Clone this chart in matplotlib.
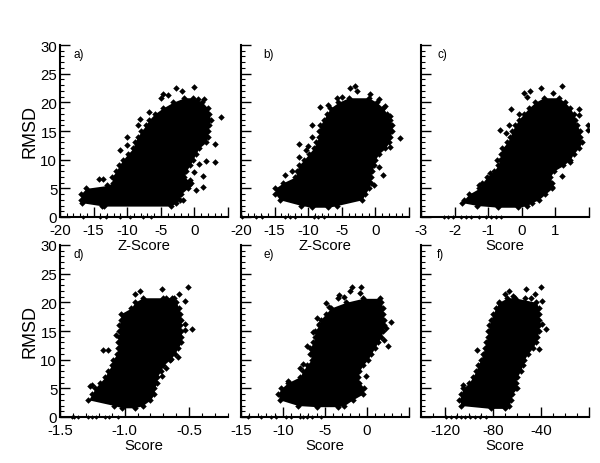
import numpy as np
import matplotlib
matplotlib.use('Agg')
import matplotlib.pyplot as plt

plt.rcParams['font.family'] = ['Liberation Sans', 'DejaVu Sans']

# cloud edge per panel : rmsd level, lowest score, highest score
a_y = [1.9, 2.5, 3, 4, 5, 5.5, 6, 7, 8, 9, 10, 11, 12, 13, 14, 15, 16, 17, 18, 19, 20, 20.8]
a_left = [-13.5, -16.8, -16.9, -16.9, -16.1, -13, -12.1, -12.3, -11.6, -11.2, -10.6, -9.9, -9.1, -8.9, -8.4, -7.9, -7.2, -6.7, -5.9, -4.7, -3.2, -1.5]
a_right = [-3.5, -2.7, -2.2, -2, -1, -0.8, -0.5, -1.5, -1.2, -0.7, -0.2, 0.2, 0.7, 1.7, 2, 2, 2.2, 2.4, 2.2, 2, 1.2, -0.2]

b_y = [1.7, 2, 3, 4, 5, 6, 7, 8, 9, 10, 11, 12, 13, 14, 15, 16, 17, 18, 19, 20, 20.8]
b_left = [-9.5, -11, -14.2, -14.9, -14.9, -13.7, -11.9, -11.7, -11.4, -10.6, -9.9, -9.2, -8.8, -8.4, -8.4, -8.2, -7.7, -7.2, -6.7, -5.5, -4]
b_right = [-7, -5.7, -2, -1.5, -1, -0.7, -0.7, -0.5, -0.2, 0, 0.5, 1.5, 2, 2.2, 2.5, 2.5, 2.2, 1.7, 1.2, 0.2, -1]

c_y = [1.7, 2, 2.5, 3, 4, 5, 6, 7, 8, 9, 10, 11, 12, 13, 14, 15, 16, 17, 18, 19, 20, 20.8]
c_left = [-0.7, -1.32, -1.77, -1.72, -1.57, -1.27, -1.17, -1.03, -0.83, -0.71, -0.65, -0.63, -0.58, -0.43, -0.34, -0.29, -0.19, -0.09, 0.06, 0.21, 0.4, 0.65]
c_right = [-0.1, 0.16, 0.3, 0.5, 0.7, 0.9, 0.9, 0.85, 0.95, 1.24, 1.44, 1.54, 1.69, 1.79, 1.74, 1.74, 1.64, 1.59, 1.54, 1.44, 1.29, 1.1]

d_y = [1.6, 2, 3, 4, 5, 6, 7, 8, 9, 10, 11, 12, 13, 14, 15, 16, 17, 18, 19, 20, 20.8]
d_left = [-1.02, -1.08, -1.28, -1.25, -1.23, -1.19, -1.15, -1.13, -1.10, -1.09, -1.06, -1.05, -1.05, -1.04, -1.04, -1.04, -1.03, -1.03, -0.95, -0.92, -0.86]
d_right = [-0.92, -0.86, -0.8, -0.77, -0.77, -0.75, -0.75, -0.72, -0.70, -0.65, -0.61, -0.59, -0.56, -0.56, -0.56, -0.57, -0.56, -0.57, -0.58, -0.6, -0.62]

e_y = [1.8, 2, 3, 4, 5, 6, 7, 8, 9, 10, 11, 12, 13, 14, 15, 16, 17, 18, 19, 20, 20.7]
e_left = [-6, -8.2, -10.4, -10.6, -10.2, -9.4, -8, -7.6, -7.2, -6.6, -6.8, -6.8, -6.4, -6.2, -6.2, -5.7, -5.5, -4.9, -4.3, -2.5, -0.5]
e_right = [-3.5, -2.7, -1.7, -0.5, -0.3, -0.9, -1.1, -0.9, -0.5, 0.1, 0.5, 0.9, 1.3, 1.7, 1.9, 2, 2, 1.9, 1.9, 1.7, 1.5]

f_y = [1.5, 2, 3, 4, 5, 6, 7, 8, 9, 10, 11, 12, 13, 14, 15, 16, 17, 18, 19, 20, 20.8]
f_left = [-82, -106.5, -108, -106.5, -105, -99.6, -97, -94, -92.7, -90, -88.6, -87, -86, -84.4, -84, -83, -81.7, -80, -77.5, -75, -68]
f_right = [-70, -66.5, -65, -64, -60, -61, -60, -57, -55.4, -54, -51, -47, -44.4, -43, -41.7, -41.7, -41.7, -41.7, -41.7, -44, -62]

# stray points outside the cloud
a_ox = [-0.1, -2.8, -1.9, -4.7, -4, -5, 4, 3, 3, 1.7, 0.7, 1.3, 1.3, 0.2, -10.1, -11.1, -10.1, -14.2, -13.6, -13.8, -1.7, 0, -0.7, -8.1, -6.7, -8.4, 0.5, 1.5]
a_oy = [22.7, 22.5, 21.9, 21.5, 21.2, 20.8, 17.4, 9.6, 12.8, 9.8, 9.3, 7.1, 5.2, 4.7, 13.9, 11.6, 12.5, 6.7, 6.6, 2, 2.9, 7.8, 6.4, 17.1, 18.3, 16, 20.6, 20.5]
b_ox = [-3.1, -3.8, -2.8, -0.8, -5.7, -5, 0.5, -8.3, -7.1, 3.7, -9.4, -9.4, -11.3, -10, -10.4, -11.3, -12.4, -13.5, 1.1, -0.2, 0.5, 2.2, 1.5, 2.2]
b_oy = [22.8, 22.5, 21.9, 21.5, 20.8, 20.9, 20.5, 19.1, 19.5, 13.7, 16, 14, 12.7, 12.4, 11.6, 10.5, 8.1, 7.3, 7.3, 5.5, 8.7, 12.2, 19.4, 17.7]
c_ox = [1.19, 0.58, 0.24, 0.06, 0.16, 0.92, -0.32, -0.65, -0.09, -0.38, -0.48, 1.98, 1.98, 1.71, 1.69, 1.21, 1.44, 0.85, 0.9, -0.95, -0.73, -1.27]
c_oy = [22.8, 22.5, 22, 21.6, 20.9, 21.6, 18.9, 15.1, 18, 16.1, 14.7, 16, 15.1, 18.8, 17.8, 7.1, 9.6, 7.8, 5.2, 7.7, 9.9, 5.5]
d_ox = [-0.51, -0.71, -0.88, -0.92, -0.58, -0.7, -0.68, -0.53, -0.63, -0.53, -0.48, -0.53, -1.17, -1.13, -1.07, -1.25, -1.27, -0.59, -0.68, -0.71, -0.64]
d_oy = [22.7, 22.4, 21.9, 21.5, 21.5, 20.8, 20.8, 20.2, 20.8, 16.3, 15.3, 15.1, 11.6, 11.6, 14.3, 5.6, 5.4, 10.5, 8.6, 7.2, 10.1]
e_ox = [-0.7, -1.8, -2, -0.8, -3.3, -3.5, -2.7, -4.9, -4.5, -5.9, -5.7, 2.9, 2.3, 2.5, 2, -0.1, -6.4, -7.2, -8, -9.4, -7.6]
e_oy = [22.7, 22.6, 21.9, 21.7, 21.2, 20.8, 20.9, 19.9, 19.2, 17.3, 16.2, 16.5, 15.6, 12.3, 13.5, 7.2, 14.8, 12.4, 8.6, 6.3, 9.2]
f_ox = [-40.3, -52.1, -45.2, -66.5, -69.8, -63.7, -53.2, -38.9, -39.4, -35.6, -41.7, -93.5, -104.6, -74.8, -61, -48.6]
f_oy = [22.7, 22.4, 21.5, 21.9, 21.5, 21.1, 20.8, 20.2, 16.3, 15.3, 11.8, 11.6, 5.6, 19.9, 5, 20.8]

# points sitting on the rmsd = 0 line
a_zero = [-16.6, -14.1, -13.1, -11.1, -9.6, -7.7, -6.4]
b_zero = [-19.8, -17.7, -16.9, -13.4, -12.7, -12, -9.2, -8.5, -7.6]
c_zero = [-2.31, -2.21, -2.06, -1.82, -1.67, -1.52, -1.27, -1.08, -0.93, -0.78, -0.63]
d_zero = [-1.41, -1.39, -1.36, -1.28, -1.25, -1.22, -1.15, -1.12, -1.05]
e_zero = [-14.2, -12.6, -11.4, -10.8, -9.6, -9.1, -8, -7.6, -7.2, -6.6, -5.5]
f_zero = [-119, -115, -111, -107, -103, -99, -95, -91, -86]

letters = ['a)', 'b)', 'c)', 'd)', 'e)', 'f)']
xlabels = ['Z-Score', 'Z-Score', 'Score', 'Score', 'Score', 'Score']
xlims = [(-20, 5), (-20, 5), (-3, 2), (-1.5, -0.2), (-15, 5), (-140, 0)]
majors = [[-20, -15, -10, -5, 0, 5], [-20, -15, -10, -5, 0, 5], [-3, -2, -1, 0, 1, 2],
          [-1.5, -1.0, -0.5], [-15, -10, -5, 0, 5], [-120, -80, -40, 0]]
majlabels = [['-20', '-15', '-10', '-5', '0', ''], ['-20', '-15', '-10', '-5', '0', ''],
             ['-3', '-2', '-1', '0', '1', ''], ['-1.5', '-1.0', '-0.5'],
             ['-15', '-10', '-5', '0', ''], ['-120', '-80', '-40', '']]
minor_step = [1, 1, None, 0.1, 1, 10]
yticks = [0, 5, 10, 15, 20, 25, 30]

clouds = [(a_y, a_left, a_right, a_ox, a_oy, a_zero),
          (b_y, b_left, b_right, b_ox, b_oy, b_zero),
          (c_y, c_left, c_right, c_ox, c_oy, c_zero),
          (d_y, d_left, d_right, d_ox, d_oy, d_zero),
          (e_y, e_left, e_right, e_ox, e_oy, e_zero),
          (f_y, f_left, f_right, f_ox, f_oy, f_zero)]

# panel boxes in pixels : left, top
W, H = 600.0, 464.0
lefts = [60, 241, 421, 60, 241, 421]
tops = [46, 46, 46, 246, 246, 246]
letter_dx = [14, 22, 16, 14, 22, 16]

fig = plt.figure(figsize=(6, 4.64), dpi=100)

for i in range(6):
    ax = fig.add_axes([lefts[i] / W, 1 - (tops[i] + 172) / H, 168 / W, 172 / H])
    ax.patch.set_visible(False)  # x label of the upper row runs into the lower panel
    y, left, right, ox, oy, zero = clouds[i]

    # dense part is solid black, edge and strays as diamonds
    ax.fill_betweenx(y, left, right, color='k', lw=0)
    ax.scatter(left, y, marker='D', s=11, c='k', lw=0)
    ax.scatter(right, y, marker='D', s=11, c='k', lw=0)
    ax.scatter(ox, oy, marker='D', s=11, c='k', lw=0)
    ax.scatter(zero, [0] * len(zero), marker='D', s=5, c='k', lw=0, clip_on=False)

    ax.set_xlim(xlims[i])
    ax.set_ylim(0, 30)
    ax.spines['top'].set_visible(False)
    ax.spines['right'].set_visible(False)
    ax.spines['left'].set_linewidth(1.5)
    ax.spines['bottom'].set_linewidth(1.5)

    ax.set_xticks(majors[i])
    ax.set_xticklabels(majlabels[i], fontsize=10.8)
    if minor_step[i] is not None:
        ax.set_xticks(np.arange(xlims[i][0], xlims[i][1] + 0.001, minor_step[i]), minor=True)
    ax.set_yticks(yticks)
    ax.set_yticks(range(0, 31), minor=True)
    if i % 3 == 0:
        ax.set_yticklabels([str(t) for t in yticks], fontsize=10.8)
        ax.set_ylabel('RMSD', fontsize=13, labelpad=1)
    else:
        ax.set_yticklabels([])

    ax.tick_params(which='major', direction='in', length=7, width=1, pad=2)
    ax.tick_params(axis='x', which='major', pad=4)
    ax.tick_params(which='minor', direction='in', length=3, width=0.8)
    ax.set_xlabel(xlabels[i], fontsize=10.7, labelpad=1)
    ax.text(letter_dx[i] / 168.0, 1 - 9 / 172.0, letters[i], transform=ax.transAxes,
            fontsize=8.5, va='center', ha='left')

fig.savefig('out.png', dpi=100)
